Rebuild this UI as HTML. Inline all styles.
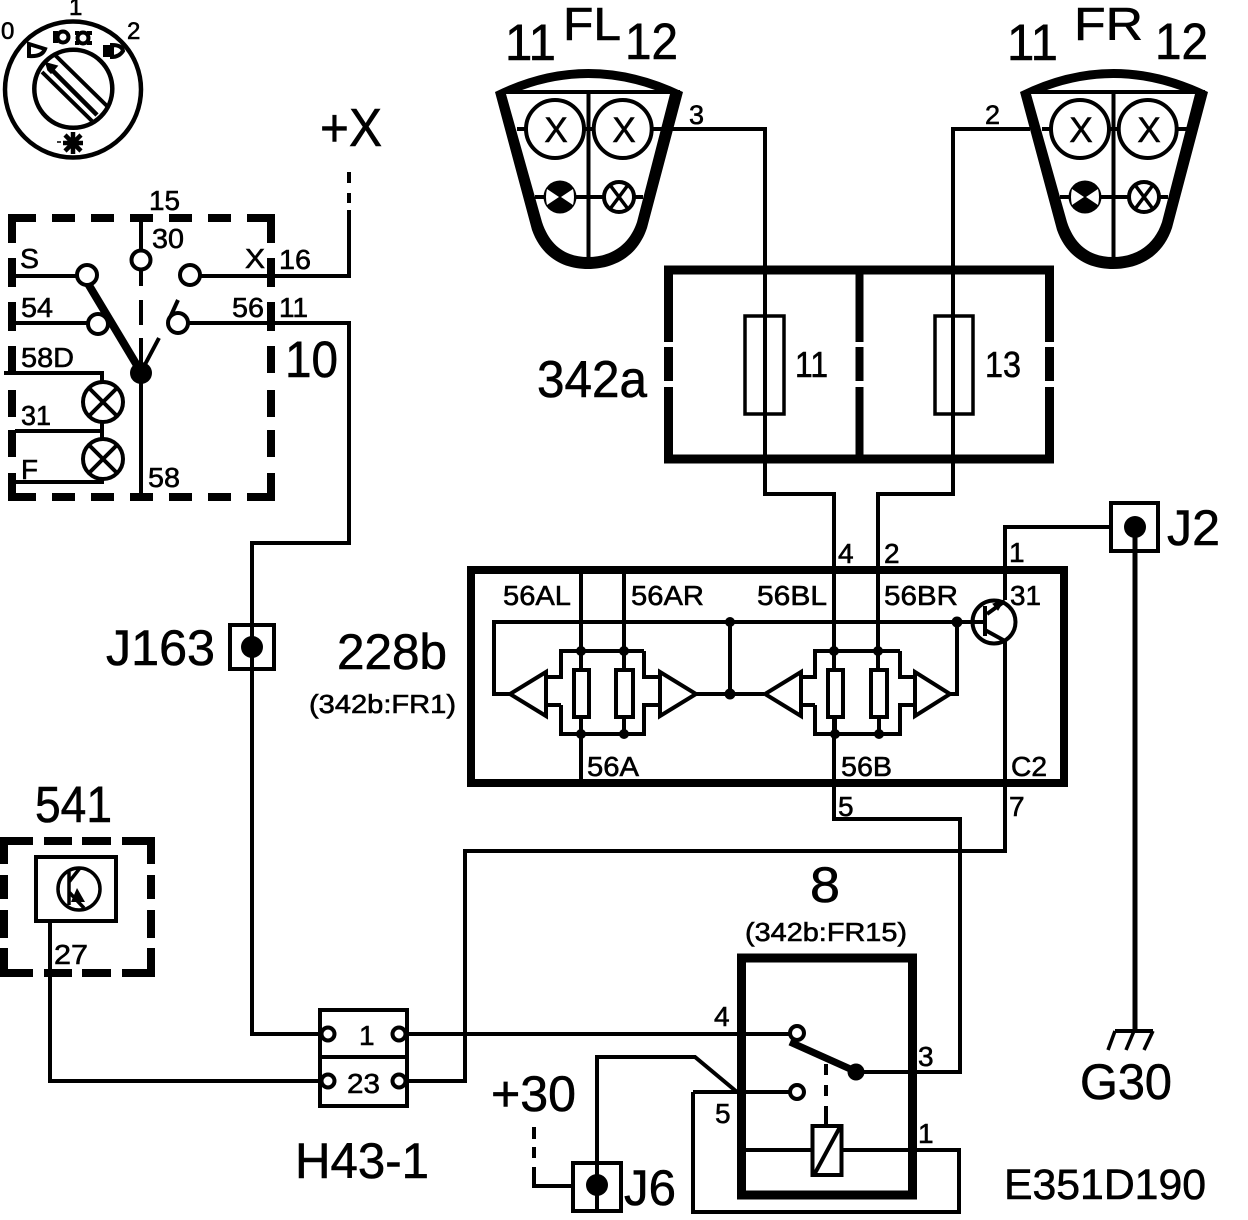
<!DOCTYPE html>
<html><head><meta charset="utf-8"><style>
html,body{margin:0;padding:0;background:#fff}
svg{display:block}
text{font-family:"Liberation Sans",sans-serif;fill:#000;stroke:#000;stroke-width:.6}
.w{fill:none;stroke:#000;stroke-width:4}
.t{fill:none;stroke:#000;stroke-width:3.5}
.b{fill:none;stroke:#000;stroke-width:8}
.c{fill:#fff;stroke:#000;stroke-width:4}
</style></head><body>
<svg width="1248" height="1220" viewBox="0 0 1248 1220" xmlns="http://www.w3.org/2000/svg">
<rect width="1248" height="1220" fill="#fff"/>

<!-- dial -->
<circle cx="73" cy="89.500" r="68" fill="none" stroke="#000" stroke-width="4.500"/>
<circle cx="73.300" cy="88.800" r="39" fill="none" stroke="#000" stroke-width="4.500"/>
<path d="M55 55L108 107M42 72L93 122" fill="none" stroke="#000" stroke-width="4"/>
<path d="M50 68L97 115" fill="none" stroke="#000" stroke-width="4.500"/>
<path d="M46 63l11 3-6 7-3-3z" fill="#000" stroke="#000" stroke-width="1.500"/>
<path d="M29 44L45 49Q42 57 29 56Z" fill="#fff" stroke="#000" stroke-width="4"/>
<circle cx="63" cy="37" r="5.500" fill="#fff" stroke="#000" stroke-width="4"/>
<path d="M53 33h5M53 37h5M53 41h5" class="w"/>
<circle cx="83" cy="38" r="5.500" fill="#fff" stroke="#000" stroke-width="4"/>
<path d="M75 33h4M75 43h4M87 33h5M87 43h5" class="w"/>
<path d="M112 45Q122 45 123 51Q119 57 112 57Z" fill="#fff" stroke="#000" stroke-width="4"/>
<path d="M103 47h9M103 51h9M103 55h9" class="w"/>
<path d="M73 132v22M63 143h20M65 135l16 16M81 135l-16 16" fill="none" stroke="#000" stroke-width="4.500"/>
<path d="M57 142h4" fill="none" stroke="#000" stroke-width="1.500"/>
<text x="1" y="39" font-size="24">0</text>
<text x="69" y="15" font-size="24">1</text>
<text x="127" y="39" font-size="24">2</text>

<!-- +X -->
<text x="320" y="146" font-size="54" textLength="62" lengthAdjust="spacingAndGlyphs">+X</text>
<path d="M349 172v11M349 193v10" class="w"/>

<!-- box 10 -->
<path d="M8 218H275M8 497H275M12 214V501M271 214V501" fill="none" stroke="#000" stroke-width="8"/>
<g fill="#fff">
<rect x="36" y="212" width="16" height="12"/><rect x="75" y="212" width="16" height="12"/><rect x="114" y="212" width="16" height="12"/><rect x="153" y="212" width="16" height="12"/><rect x="192" y="212" width="16" height="12"/><rect x="231" y="212" width="16" height="12"/>
<rect x="36" y="491" width="16" height="12"/><rect x="75" y="491" width="16" height="12"/><rect x="114" y="491" width="16" height="12"/><rect x="153" y="491" width="16" height="12"/><rect x="192" y="491" width="16" height="12"/><rect x="231" y="491" width="16" height="12"/>
<rect x="6" y="243" width="12" height="15"/><rect x="6" y="287" width="12" height="15"/><rect x="6" y="331" width="12" height="15"/><rect x="6" y="373" width="12" height="17"/><rect x="6" y="417" width="12" height="13"/><rect x="6" y="457" width="12" height="16"/>
<rect x="265" y="243" width="12" height="15"/><rect x="265" y="287" width="12" height="15"/><rect x="265" y="331" width="12" height="15"/><rect x="265" y="373" width="12" height="17"/><rect x="265" y="417" width="12" height="13"/><rect x="265" y="457" width="12" height="16"/>
</g>
<path d="M15 276H78M200 276H349V210M15 323H88M188 323H349V543H252V1034H320M141 218V250M141 270V286M141 300V325M141 338V372M141 372V497M4 373H102V383M102 421V439M15 431H102M15 482H102V478" class="w"/>
<path d="M87 282L141 372" fill="none" stroke="#000" stroke-width="8"/>
<path d="M141 372L159 338M168 322L178 300" fill="none" stroke="#000" stroke-width="4"/>
<circle cx="141" cy="373" r="11" fill="#000"/>
<circle cx="87" cy="275" r="10" class="c"/>
<circle cx="98" cy="324" r="10" class="c"/>
<circle cx="141" cy="260" r="9.500" class="c"/>
<circle cx="190" cy="275" r="10" class="c"/>
<circle cx="178" cy="323" r="10" class="c"/>
<circle cx="103" cy="402" r="20" class="c"/>
<path d="M89 388L117 416M117 388L89 416" class="w"/>
<circle cx="103" cy="459" r="20" class="c"/>
<path d="M89 445L117 473M117 445L89 473" class="w"/>
<g font-size="28">
<text x="149" y="210" textLength="31" lengthAdjust="spacingAndGlyphs">15</text>
<text x="152" y="248" textLength="32" lengthAdjust="spacingAndGlyphs">30</text>
<text x="20" y="268" textLength="19" lengthAdjust="spacingAndGlyphs">S</text>
<text x="245" y="268" textLength="20" lengthAdjust="spacingAndGlyphs">X</text>
<text x="279" y="269" textLength="32" lengthAdjust="spacingAndGlyphs">16</text>
<text x="21" y="317" textLength="32" lengthAdjust="spacingAndGlyphs">54</text>
<text x="232" y="317" textLength="32" lengthAdjust="spacingAndGlyphs">56</text>
<text x="279" y="317" textLength="29" lengthAdjust="spacingAndGlyphs">11</text>
<text x="21" y="367" textLength="53" lengthAdjust="spacingAndGlyphs">58D</text>
<text x="21" y="425" textLength="30" lengthAdjust="spacingAndGlyphs">31</text>
<text x="21" y="479" textLength="17" lengthAdjust="spacingAndGlyphs">F</text>
<text x="148" y="487" textLength="32" lengthAdjust="spacingAndGlyphs">58</text>
</g>
<text x="285" y="377" font-size="51" textLength="53" lengthAdjust="spacingAndGlyphs">10</text>

<!-- FL -->
<g>
<path d="M517 129H690M535 197H643M588.500 92V258" class="w"/>
<path fill-rule="evenodd" fill="#000" d="M495 92Q588 46 683 92L647 228C637 258 612 269 588 269C564 269 542 258 532 230ZM522 90Q588 66 655 90ZM506 94H670L637 222C629 246 610 257 588 257C566 257 550 246 542 222Z"/>
<path d="M500 92H680" class="w"/>
<circle cx="555" cy="129" r="29" class="c"/>
<circle cx="622.700" cy="129" r="29" class="c"/>
<text x="556" y="142" font-size="35" text-anchor="middle">X</text>
<text x="624" y="142" font-size="35" text-anchor="middle">X</text>
<circle cx="560" cy="197" r="16.500" fill="#000"/>
<path d="M547 189L559 197L547 205Q545 197 547 189ZM573 189L561 197L573 205Q575 197 573 189Z" fill="#fff"/>
<circle cx="619" cy="197" r="15" class="c"/>
<path d="M610 185L628 209M628 185L610 209" class="t"/>
</g>
<path d="M680 129H765V494H834V570" class="w"/>
<!-- FR -->
<g transform="translate(525 0)">
<path d="M517 129H670M535 197H643M588.500 92V258" class="w"/>
<path fill-rule="evenodd" fill="#000" d="M495 92Q588 46 683 92L647 228C637 258 612 269 588 269C564 269 542 258 532 230ZM522 90Q588 66 655 90ZM506 94H670L637 222C629 246 610 257 588 257C566 257 550 246 542 222Z"/>
<path d="M500 92H680" class="w"/>
<circle cx="555" cy="129" r="29" class="c"/>
<circle cx="622.700" cy="129" r="29" class="c"/>
<text x="556" y="142" font-size="35" text-anchor="middle">X</text>
<text x="624" y="142" font-size="35" text-anchor="middle">X</text>
<circle cx="560" cy="197" r="16.500" fill="#000"/>
<path d="M547 189L559 197L547 205Q545 197 547 189ZM573 189L561 197L573 205Q575 197 573 189Z" fill="#fff"/>
<circle cx="619" cy="197" r="15" class="c"/>
<path d="M610 185L628 209M628 185L610 209" class="t"/>
</g>
<path d="M1030 129H953V494H878V570" class="w"/>
<text x="505" y="60" font-size="51" textLength="51" lengthAdjust="spacingAndGlyphs">11</text>
<text x="563" y="40" font-size="46" textLength="58" lengthAdjust="spacingAndGlyphs">FL</text>
<text x="625" y="59" font-size="51" textLength="53" lengthAdjust="spacingAndGlyphs">12</text>
<text x="1007" y="60" font-size="51" textLength="51" lengthAdjust="spacingAndGlyphs">11</text>
<text x="1074" y="40" font-size="46" textLength="69" lengthAdjust="spacingAndGlyphs">FR</text>
<text x="1155" y="59" font-size="51" textLength="53" lengthAdjust="spacingAndGlyphs">12</text>
<text x="689" y="124" font-size="27">3</text>
<text x="985" y="124" font-size="27">2</text>

<!-- 342a -->
<rect x="668.500" y="270" width="381" height="189" fill="none" stroke="#000" stroke-width="9"/>
<path d="M859.500 270V459" fill="none" stroke="#000" stroke-width="8"/>
<g fill="#fff">
<rect x="662" y="342" width="14" height="5"/><rect x="662" y="381" width="14" height="6"/>
<rect x="854" y="342" width="12" height="5"/><rect x="854" y="381" width="12" height="6"/>
<rect x="1043" y="342" width="14" height="5"/><rect x="1043" y="381" width="14" height="6"/>
</g>
<rect x="745" y="316" width="39" height="98" class="t"/>
<rect x="935" y="316" width="38" height="98" class="t"/>
<path d="M765 270V494M953 270V494" class="w"/>
<text x="537" y="397" font-size="52" textLength="110" lengthAdjust="spacingAndGlyphs">342a</text>
<text x="795" y="377" font-size="36" textLength="33" lengthAdjust="spacingAndGlyphs">11</text>
<text x="985" y="377" font-size="36" textLength="36" lengthAdjust="spacingAndGlyphs">13</text>

<!-- 228b -->
<rect x="471" y="570" width="593" height="213" fill="none" stroke="#000" stroke-width="8"/>
<path d="M834 570V819H960V1072H857M878 570V651M581 570V783M624 570V651M1005 783V851H465V1081H408M1005 640V783M1005 600V527H1109" class="w"/>
<path d="M957 622H494V694H510M730 622V694M696 694H764M950 694H957V622" class="w"/>
<path d="M644 651H561V677H546M561 705H546M561 705V734H644V705H660M644 651V677H660M581 651V670M624 651V670M581 717V734M624 717V734M581 734V783" class="w"/>
<path d="M900 651H815V677H801M815 705H801M815 705V734H900V705H915M900 651V677H915M834 670V651M878 670V651M835 717V734M879 717V734" class="w"/>
<path d="M546 672V716L510 694ZM660 672V716L696 694ZM801 672V716L765 694ZM915 672V716L950 694Z" class="c"/>
<rect x="574" y="670" width="15" height="47" class="c"/>
<rect x="616" y="670" width="17" height="47" class="c"/>
<rect x="828" y="670" width="15" height="47" class="c"/>
<rect x="871" y="670" width="16" height="47" class="c"/>
<g fill="#000">
<circle cx="581" cy="651" r="5"/><circle cx="624" cy="651" r="5"/><circle cx="581" cy="734" r="5"/><circle cx="624" cy="734" r="5"/>
<circle cx="834" cy="651" r="5"/><circle cx="878" cy="651" r="5"/><circle cx="835" cy="734" r="5"/><circle cx="879" cy="734" r="5"/>
<circle cx="730" cy="622" r="5"/><circle cx="730" cy="694" r="5.500"/><circle cx="957" cy="622" r="5.500"/>
</g>
<circle cx="994" cy="622" r="21.500" fill="none" stroke="#000" stroke-width="4"/>
<path d="M957 622H985M985 606V636M985 630L1005 641M987 614L1005 601" class="w"/>
<path d="M993 604l11-4-6 10z" fill="#000" stroke="#000" stroke-width="1"/>
<g font-size="28">
<text x="503" y="605" textLength="68" lengthAdjust="spacingAndGlyphs">56AL</text>
<text x="631" y="605" textLength="73" lengthAdjust="spacingAndGlyphs">56AR</text>
<text x="757" y="605" textLength="70" lengthAdjust="spacingAndGlyphs">56BL</text>
<text x="884" y="605" textLength="74" lengthAdjust="spacingAndGlyphs">56BR</text>
<text x="1010" y="605" textLength="31" lengthAdjust="spacingAndGlyphs">31</text>
<text x="587" y="776" textLength="52" lengthAdjust="spacingAndGlyphs">56A</text>
<text x="841" y="776" textLength="51" lengthAdjust="spacingAndGlyphs">56B</text>
<text x="1011" y="776" textLength="36" lengthAdjust="spacingAndGlyphs">C2</text>
<text x="838" y="563">4</text>
<text x="884" y="563">2</text>
<text x="1009" y="562">1</text>
<text x="838" y="816">5</text>
<text x="1009" y="816">7</text>
</g>
<text x="337" y="669" font-size="50" textLength="110" lengthAdjust="spacingAndGlyphs">228b</text>
<text x="309" y="713" font-size="26" textLength="147" lengthAdjust="spacingAndGlyphs">(342b:FR1)</text>

<!-- J2 -->
<rect x="1111" y="503" width="47" height="48" class="w"/>
<circle cx="1135" cy="527" r="11" fill="#000"/>
<path d="M1135 527V1032" fill="none" stroke="#000" stroke-width="5"/>
<path d="M1115 1031H1153" fill="none" stroke="#000" stroke-width="4"/>
<path d="M1115 1031L1108 1050M1134 1031L1126 1050M1153 1031L1144 1050" class="t"/>
<text x="1167" y="545" font-size="50" textLength="53" lengthAdjust="spacingAndGlyphs">J2</text>
<text x="1080" y="1099" font-size="50" textLength="92" lengthAdjust="spacingAndGlyphs">G30</text>
<text x="1004" y="1199" font-size="43" textLength="202" lengthAdjust="spacingAndGlyphs">E351D190</text>

<!-- J163 -->
<rect x="230" y="625" width="44" height="44" class="w"/>
<circle cx="252" cy="647" r="11" fill="#000"/>
<text x="106" y="665" font-size="50" textLength="109" lengthAdjust="spacingAndGlyphs">J163</text>

<!-- 541 -->
<path d="M4 837V977M151 837V977M0 841H155M0 973H155" fill="none" stroke="#000" stroke-width="8"/>
<g fill="#fff">
<rect x="33" y="835" width="11" height="12"/><rect x="72" y="835" width="10" height="12"/><rect x="111" y="835" width="11" height="12"/>
<rect x="33" y="967" width="11" height="12"/><rect x="72" y="967" width="10" height="12"/><rect x="111" y="967" width="11" height="12"/>
<rect x="0" y="864" width="10" height="11"/><rect x="0" y="899" width="10" height="11"/><rect x="0" y="938" width="10" height="10"/>
<rect x="145" y="864" width="12" height="11"/><rect x="145" y="899" width="12" height="11"/><rect x="145" y="938" width="12" height="10"/>
</g>
<rect x="36" y="857" width="80" height="64" class="w" stroke-width="4"/>
<circle cx="79" cy="889" r="21" fill="none" stroke="#000" stroke-width="3.500"/>
<path d="M69 872V905M69 882L80 868M69 892L84 908" class="t"/>
<path d="M71 902l6-14 8 14z" fill="#000"/>
<path d="M50 921V1081H320" class="w"/>
<text x="35" y="822" font-size="51" textLength="77" lengthAdjust="spacingAndGlyphs">541</text>
<text x="54" y="964" font-size="28" textLength="34" lengthAdjust="spacingAndGlyphs">27</text>

<!-- H43 -->
<rect x="320" y="1010" width="87" height="96" class="w"/>
<path d="M320 1057H407" class="w"/>
<path d="M404 1034H790M408 1081H465" class="w"/>
<circle cx="328" cy="1034" r="6.500" class="c"/>
<circle cx="328" cy="1081" r="6.500" class="c"/>
<circle cx="399" cy="1034" r="6.500" class="c"/>
<circle cx="399" cy="1081" r="6.500" class="c"/>
<text x="359" y="1045" font-size="28">1</text>
<text x="347" y="1093" font-size="28" textLength="33" lengthAdjust="spacingAndGlyphs">23</text>
<text x="295" y="1178" font-size="50" textLength="134" lengthAdjust="spacingAndGlyphs">H43-1</text>

<!-- relay 8 -->
<rect x="741.500" y="958" width="171" height="237" fill="none" stroke="#000" stroke-width="9"/>
<path d="M693 1092H790M693 1092V1212H959V1150H842M741 1150H812" class="w"/>
<circle cx="797" cy="1033" r="7" class="c"/>
<circle cx="797" cy="1092" r="7" class="c"/>
<path d="M790 1042L857 1072" fill="none" stroke="#000" stroke-width="7"/>
<circle cx="856" cy="1072" r="8.500" fill="#000"/>
<path d="M826 1064V1075M826 1085V1096M826 1106V1125" class="w"/>
<rect x="812.500" y="1126" width="29" height="49" class="c"/>
<path d="M814 1175L840 1127" class="w"/>
<path d="M597 1210V1057H695L737 1092" class="w"/>
<text x="810" y="902" font-size="50" textLength="30" lengthAdjust="spacingAndGlyphs">8</text>
<text x="745" y="941" font-size="26" textLength="162" lengthAdjust="spacingAndGlyphs">(342b:FR15)</text>
<g font-size="28">
<text x="714" y="1026">4</text>
<text x="918" y="1066">3</text>
<text x="715" y="1123">5</text>
<text x="918" y="1143">1</text>
</g>

<!-- J6 -->
<rect x="573" y="1163" width="48" height="48" class="w"/>
<circle cx="597" cy="1185" r="11" fill="#000"/>
<path d="M534 1127V1139M534 1147V1158M534 1167V1186H573" class="w"/>
<text x="491" y="1111" font-size="50" textLength="85" lengthAdjust="spacingAndGlyphs">+30</text>
<text x="624" y="1205" font-size="50" textLength="52" lengthAdjust="spacingAndGlyphs">J6</text>
</svg>
</body></html>
